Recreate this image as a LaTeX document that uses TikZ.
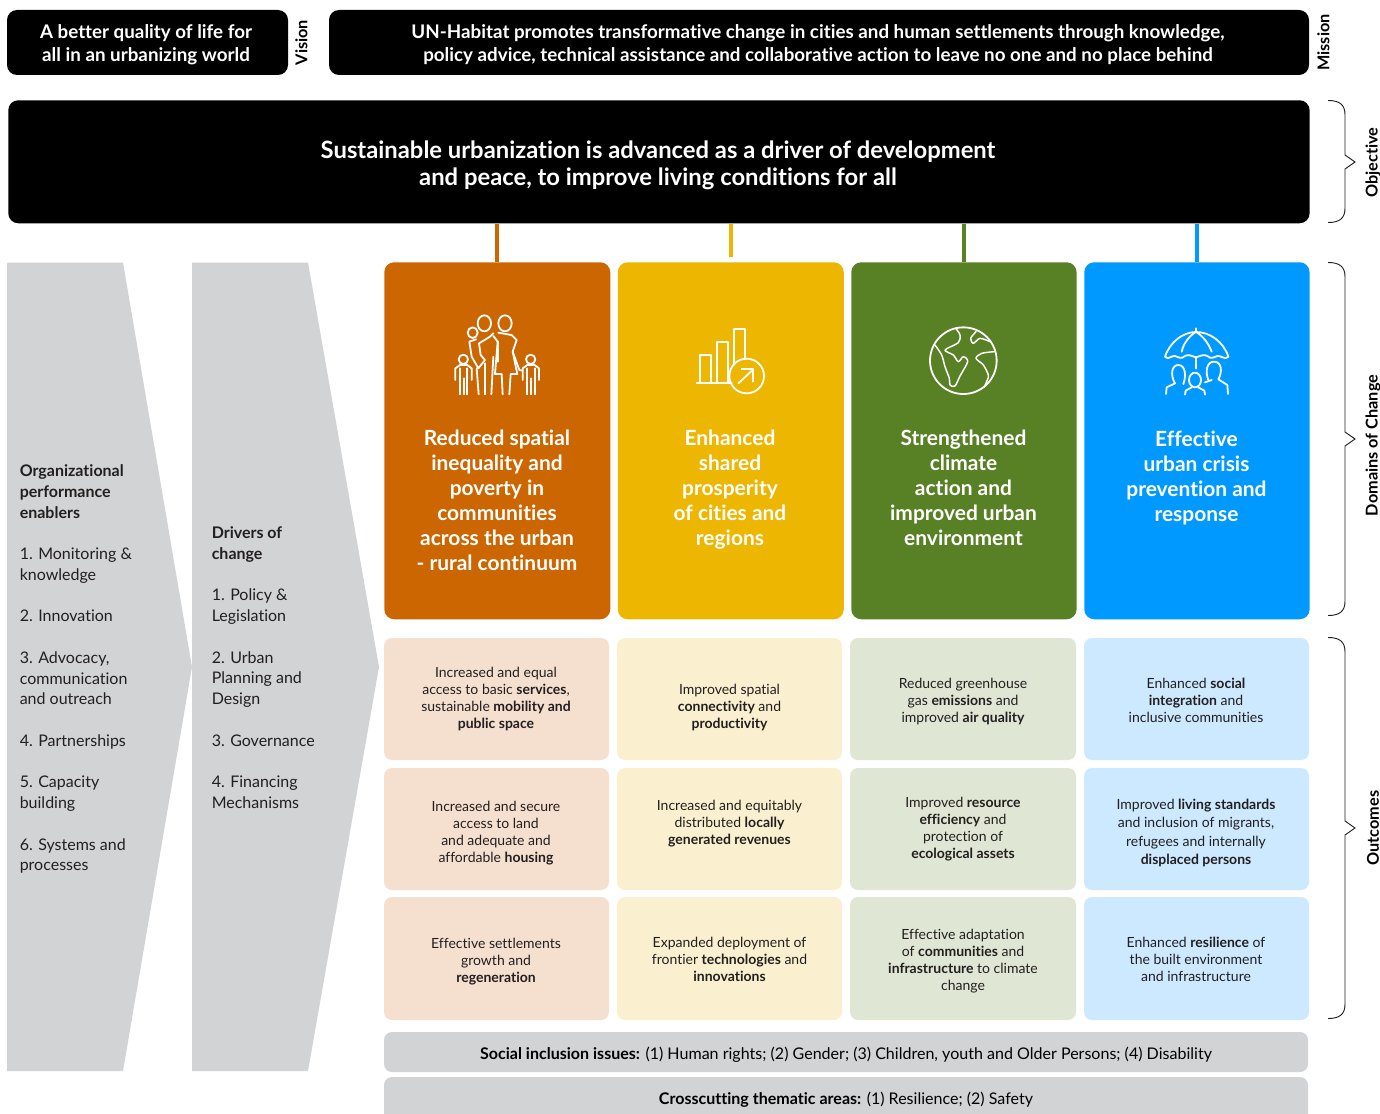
\documentclass[tikz,border=0pt]{standalone}
\usepackage{fontspec}
\setmainfont{Lato}[Ligatures={NoCommon}]
\definecolor{cOrange}{HTML}{CC6600}
\definecolor{cYellow}{HTML}{EDB600}
\definecolor{cGreen}{HTML}{588126}
\definecolor{cBlue}{HTML}{0099FF}
\definecolor{lOrange}{HTML}{F5E0CF}
\definecolor{lYellow}{HTML}{FAF0CF}
\definecolor{lGreen}{HTML}{DFE6D4}
\definecolor{lBlue}{HTML}{CCE9FF}
\definecolor{cGrey}{HTML}{D1D3D4}
\definecolor{cText}{HTML}{231F20}
\tikzset{
 blackbox/.style={fill=black,rounded corners=7.5pt,draw=none},
 cardbox/.style={rounded corners=7.5pt,draw=none},
 outbox/.style={rounded corners=6pt,draw=none},
 whitehead/.style={text=white,font=\bfseries\fontsize{14.08}{17.3}\selectfont,align=center,inner sep=0pt},
 cardtext/.style={text=white,font=\bfseries\fontsize{15.7}{18.75}\selectfont,align=center,inner sep=0pt},
 outtext/.style={text=cText,font=\fontsize{10.5}{12.75}\selectfont,align=center,inner sep=0pt},
 sidetext/.style={text=cText,font=\fontsize{12}{15.56}\selectfont,align=left,inner sep=0pt,anchor=north west},
 vlabel/.style={text=black,font=\bfseries\fontsize{12.2}{14}\selectfont,rotate=90,inner sep=0pt},
 bartext/.style={text=black,font=\fontsize{12.03}{14}\selectfont,inner sep=0pt},
 stub/.style={line width=3pt},
 bracepath/.style={draw=cText,line width=0.7pt,fill=none},
 iconline/.style={draw=white,line width=1.35pt,line cap=round,line join=round,fill=none},
 iconthin/.style={draw=white,line width=1.1pt,line cap=round,line join=round,fill=none},
}
\begin{document}
\begin{tikzpicture}[x=0.75pt,y=-0.75pt]
\useasboundingbox (0,0) rectangle (1380,1113);
\clip (0,0) rectangle (1380,1113);
% top
\draw[blackbox] (7,10) rectangle (288,75);
\node[whitehead] (vision) at (146,45) {A better quality of life for\\all in an urbanizing world};
\node[vlabel] (visionl) at (301.5,42.5) {Vision};
\draw[blackbox] (329,10) rectangle (1309,75);
\node[whitehead] (mission) at (818,45) {UN-Habitat promotes transformative change in cities and human settlements through knowledge,\\policy advice, technical assistance and collaborative action to leave no one and no place behind};
\node[vlabel] (missionl) at (1323.5,42.5) {Mission};
\node[blackbox,minimum width=976pt,minimum height=92.25pt,anchor=north west] (obj) at (8,100) {};
\node[text=white,font=\bfseries\fontsize{17.85}{20.25}\selectfont,align=center,inner sep=0pt] (objt) at (658,165.5) {Sustainable urbanization is advanced as a driver of development\\and peace, to improve living conditions for all};
% pentagons
\fill[cGrey] (7,262.5) -- (123,262.5) -- (192,667) -- (123,1071) -- (7,1071) -- cycle;
\fill[cGrey] (192,262.5) -- (308,262.5) -- (379,667) -- (308,1071) -- (192,1071) -- cycle;
\node[sidetext] (enablers) at (19.5,464.5) {\textbf{Organizational}\\\textbf{performance}\\\textbf{enablers}\\[15.56pt]1. Monitoring \&\\knowledge\\[15.56pt]2. Innovation\\[15.56pt]3. Advocacy,\\communication\\and outreach\\[15.56pt]4. Partnerships\\[15.56pt]5. Capacity\\building\\[15.56pt]6. Systems and\\processes};
\node[sidetext] (drivers) at (211.5,526.5) {\textbf{Drivers of}\\\textbf{change}\\[15.56pt]1. Policy \&\\Legislation\\[15.56pt]2. Urban\\Planning and\\Design\\[15.56pt]3. Governance\\[15.56pt]4. Financing\\Mechanisms};
% cards
\node[cardbox,fill=cOrange,minimum width=169.5pt,minimum height=267.75pt,anchor=north west] (c1) at (384,262) {};
\node[cardbox,fill=cYellow,minimum width=169.5pt,minimum height=267.75pt,anchor=north west] (c2) at (617.5,262) {};
\node[cardbox,fill=cGreen,minimum width=169pt,minimum height=267.75pt,anchor=north west] (c3) at (851,262) {};
\node[cardbox,fill=cBlue,minimum width=169pt,minimum height=267.75pt,anchor=north west] (c4) at (1084,262) {};
\draw[stub,cOrange] (c1.north) -- (c1.north |- obj.south);
\draw[stub,cYellow] ([yshift=3.75pt]c2.north) -- (c2.north |- obj.south);
\draw[stub,cGreen] (c3.north) -- (c3.north |- obj.south);
\draw[stub,cBlue] (c4.north) -- (c4.north |- obj.south);
\node[cardtext] (t1) at (497,500.5) {Reduced spatial\\inequality and\\poverty in\\communities\\across the urban\\- rural continuum};
\node[cardtext] (t2) at (730,490) {Enhanced\\shared\\prosperity\\of cities and\\regions};
\node[cardtext] (t3) at (963.5,488) {Strengthened\\climate\\action and\\improved urban\\environment};
\node[cardtext] (t4) at (1196.5,477.5) {Effective\\urban crisis\\prevention and\\response};
% icons
\begin{scope}[shift={(430,300)},x=0.25pt,y=-0.25pt]
 \draw[iconline] (163,70) ellipse (20 and 24);
 \draw[iconline] (225,70) ellipse (20 and 24);
 \draw[iconline] (128,98) ellipse (15 and 16);
 \draw[iconline] (100,178) ellipse (14 and 14);
 \draw[iconline] (302,178) ellipse (14 and 14);
 \draw[iconline] (138,118) -- (118,125) -- (125,170) -- (145,205) -- (165,180) -- (152,165) -- (147,130) -- (180,110) -- (190,100);
 \draw[iconline] (205,98) -- (245,105) -- (260,120) -- (248,155) -- (268,210) -- (278,212);
 \draw[iconline] (190,108) -- (203,125) -- (195,222) -- (215,222) -- (218,283);
 \draw[iconline] (248,155) -- (262,222) -- (242,222) -- (238,283);
 \draw[iconline] (205,125) -- (205,185);
 \draw[iconline] (140,205) -- (146,283);
 \draw[iconline] (165,190) -- (165,283);
 \draw[iconline] (190,170) -- (184,283);
 \draw[iconline] (76,240) -- (76,205) -- (90,195) -- (112,195) -- (125,205) -- (125,240);
 \draw[iconline] (90,205) -- (90,283);
 \draw[iconline] (112,205) -- (112,283);
 \draw[iconline] (101,235) -- (101,283);
 \draw[iconline] (278,240) -- (278,205) -- (292,195) -- (314,195) -- (327,205) -- (327,240);
 \draw[iconline] (291,205) -- (291,283);
 \draw[iconline] (314,205) -- (314,283);
 \draw[iconline] (302,235) -- (302,283);
 % bars
 \draw[iconline] (810,248) -- (810,165) -- (842,165) -- (842,248);
 \draw[iconline] (860,248) -- (860,127) -- (893,127) -- (893,248);
 \draw[iconline] (912,195) -- (912,88) -- (945,88) -- (945,178);
 \draw[iconline] (800,250) -- (905,250);
 \draw[iconline] (950,228) circle (52);
 \draw[iconline] (925,250) -- (970,208);
 \draw[iconline] (935,208) -- (970,208) -- (970,245);
\end{scope}
\begin{scope}[shift={(900,300)},x=0.25pt,y=-0.25pt]
 \draw[iconline] (190,182) circle (100);
 \draw[iconthin] plot[smooth] coordinates {(105,135) (125,165) (135,200) (148,235) (150,255) (165,258) (180,228) (203,185) (190,170) (175,185) (160,165) (135,150) (175,128) (180,105) (167,85)};
 \draw[iconthin] plot[smooth] coordinates {(270,125) (240,115) (220,130) (212,115) (228,95)};
 \draw[iconthin] plot[smooth] coordinates {(283,155) (245,160) (228,175) (250,195) (265,225) (262,240) (252,262)};
 % umbrella
 \draw[iconline] (888,85) -- (888,95);
 \draw[iconline] (795,170) .. controls (810,125) and (850,96) .. (888,96) .. controls (930,96) and (970,125) .. (985,170);
 \draw[iconline] (795,170) .. controls (805,182) and (815,165) .. (825,168) .. controls (835,172) and (845,178) .. (855,168) .. controls (865,162) and (875,168) .. (888,172) .. controls (900,168) and (912,162) .. (922,168) .. controls (932,178) and (942,172) .. (952,168) .. controls (962,165) and (975,182) .. (985,170);
 \draw[iconline] (845,155) .. controls (850,130) and (870,105) .. (888,96) .. controls (906,105) and (926,130) .. (935,155);
 \draw[iconline] (888,172) -- (888,205);
 \draw[iconline] (850,252) .. controls (860,225) and (855,195) .. (835,195) .. controls (815,195) and (810,225) .. (825,250) -- (800,262) -- (798,282);
 \draw[iconline] (925,240) .. controls (915,215) and (920,185) .. (942,185) .. controls (965,185) and (968,215) .. (955,238) -- (982,255) -- (984,282);
 \draw[iconline] (915,247) -- (935,240);
 \draw[iconline] (885,240) ellipse (18 and 22);
 \draw[iconline] (855,284) -- (857,272) -- (875,262);
 \draw[iconline] (915,284) -- (913,272) -- (895,262);
\end{scope}
% outcome boxes
\draw[outbox,fill=lOrange] (384,638) rectangle (609,760);
\draw[outbox,fill=lYellow] (617,638) rectangle (842,760);
\draw[outbox,fill=lGreen] (850,638) rectangle (1076,760);
\draw[outbox,fill=lBlue] (1084,638) rectangle (1309,760);
\draw[outbox,fill=lOrange] (384,768) rectangle (609,890);
\draw[outbox,fill=lYellow] (617,768) rectangle (842,890);
\draw[outbox,fill=lGreen] (850,768) rectangle (1076,890);
\draw[outbox,fill=lBlue] (1084,768) rectangle (1309,890);
\draw[outbox,fill=lOrange] (384,897) rectangle (609,1020);
\draw[outbox,fill=lYellow] (617,897) rectangle (842,1020);
\draw[outbox,fill=lGreen] (850,897) rectangle (1076,1020);
\draw[outbox,fill=lBlue] (1084,897) rectangle (1309,1020);
\node[outtext] (o11) at (496,699.5) {Increased and equal\\access to basic \textbf{services},\\sustainable \textbf{mobility and}\\\textbf{public space}};
\node[outtext] (o12) at (729.5,707.5) {Improved spatial\\\textbf{connectivity} and\\\textbf{productivity}};
\node[outtext] (o13) at (963,702) {Reduced greenhouse\\gas \textbf{emissions} and\\improved \textbf{air quality}};
\node[outtext] (o14) at (1196,700) {Enhanced \textbf{social}\\\textbf{integration} and\\inclusive communities};
\node[outtext] (o21) at (496,833) {Increased and secure\\access to land\\and adequate and\\affordable \textbf{housing}};
\node[outtext] (o22) at (729.5,824) {Increased and equitably\\distributed \textbf{locally}\\\textbf{generated revenues}};
\node[outtext] (o23) at (963,829.5) {Improved \textbf{resource}\\\textbf{efficiency} and\\protection of\\\textbf{ecological assets}};
\node[outtext] (o24) at (1196,833) {Improved \textbf{living standards}\\[0.9pt]and inclusion of migrants,\\[0.9pt]refugees and internally\\[0.9pt]\textbf{displaced persons}};
\node[outtext] (o31) at (496,961.5) {Effective settlements\\growth and\\\textbf{regeneration}};
\node[outtext] (o32) at (729.5,959) {Expanded deployment of\\frontier \textbf{technologies} and\\\textbf{innovations}};
\node[outtext] (o33) at (963,961.5) {Effective adaptation\\of \textbf{communities} and\\\textbf{infrastructure} to climate\\change};
\node[outtext] (o34) at (1196,959.5) {Enhanced \textbf{resilience} of\\the built environment\\and infrastructure};
% bottom bars
\draw[outbox,fill=cGrey] (384,1032) rectangle (1308,1072);
\draw[outbox,fill=cGrey] (384,1077) rectangle (1308,1130);
\node[bartext] (b1) at (846,1055) {\textbf{Social inclusion issues:} (1) Human rights; (2) Gender; (3) Children, youth and Older Persons; (4) Disability};
\node[bartext] (b2) at (846,1100) {\textbf{Crosscutting thematic areas:} (1) Resilience; (2) Safety};
% braces
\draw[bracepath] (1328,100.5) .. controls (1340,100.5) and (1345,105) .. (1345,115) -- (1345,155) -- (1355,162) -- (1345,169) -- (1345,208) .. controls (1345,218) and (1340,222.5) .. (1328,222.5);
\draw[bracepath] (1328,262.5) .. controls (1340,262.5) and (1345,267) .. (1345,277) -- (1345,432) -- (1355,439) -- (1345,446) -- (1345,601) .. controls (1345,611) and (1340,615.5) .. (1328,615.5);
\draw[bracepath] (1328,637.5) .. controls (1340,637.5) and (1345,642) .. (1345,652) -- (1345,821) -- (1355,828) -- (1345,835) -- (1345,1004) .. controls (1345,1014) and (1340,1018.5) .. (1328,1018.5);
\node[vlabel] (lobj) at (1373,162.5) {Objective};
\node[vlabel] (ldom) at (1373,445.5) {Domains of Change};
\node[vlabel] (lout) at (1373,828) {Outcomes};
\end{tikzpicture}
\end{document}
